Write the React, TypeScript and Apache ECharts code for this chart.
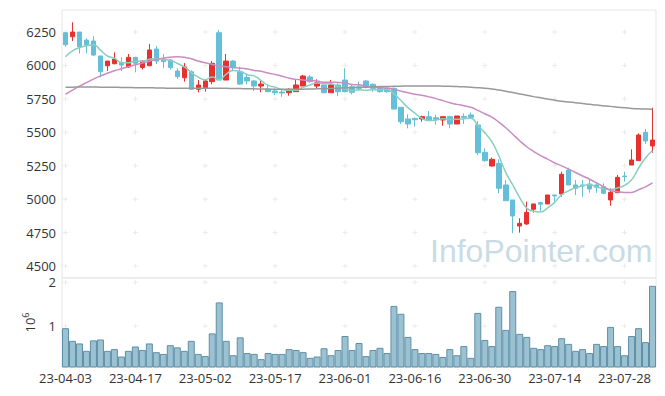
import React, { useEffect, useRef } from "react";
import * as echarts from "echarts";

const dates = [
  "23-04-03","23-04-04","23-04-05","23-04-06","23-04-07","23-04-10","23-04-11","23-04-12","23-04-13","23-04-14",
  "23-04-17","23-04-18","23-04-19","23-04-20","23-04-21","23-04-24","23-04-25","23-04-26","23-04-27","23-04-28",
  "23-05-02","23-05-03","23-05-04","23-05-08","23-05-09","23-05-10","23-05-11","23-05-12","23-05-15","23-05-16",
  "23-05-17","23-05-18","23-05-19","23-05-22","23-05-23","23-05-24","23-05-25","23-05-26","23-05-30","23-05-31",
  "23-06-01","23-06-02","23-06-05","23-06-07","23-06-08","23-06-09","23-06-12","23-06-13","23-06-14","23-06-15",
  "23-06-16","23-06-19","23-06-20","23-06-21","23-06-22","23-06-23","23-06-26","23-06-27","23-06-28","23-06-29",
  "23-06-30","23-07-03","23-07-04","23-07-05","23-07-06","23-07-07","23-07-10","23-07-11","23-07-12","23-07-13",
  "23-07-14","23-07-17","23-07-18","23-07-19","23-07-20","23-07-21","23-07-24","23-07-25","23-07-26","23-07-27",
  "23-07-28","23-07-31","23-08-01","23-08-02","23-08-03",
];

const opens = [
  6245,6215,6250,6190,6183,6071,5998,6013,6021,5989,
  6061,5985,5998,6123,6048,6041,5959,5908,5953,5822,
  5834,5879,6245,5891,6033,5953,5911,5884,5846,5824,
  5809,5801,5796,5804,5846,5914,5846,5854,5796,5854,
  5891,5841,5841,5884,5859,5829,5829,5829,5687,5600,
  5604,5600,5617,5609,5592,5617,5562,5619,5630,5555,
  5350,5248,5268,5106,4994,4799,4814,4924,4974,4964,
  5031,5038,5218,5106,5106,5113,5106,5093,4994,5048,
  5173,5255,5288,5500,5398,
];
const closes = [
  6155,6250,6140,6153,6078,5953,6033,6048,6003,6061,
  6016,6033,6116,6033,6028,5984,5916,5989,5822,5854,
  5884,6016,5891,6033,5984,5861,5884,5846,5861,5804,
  5796,5794,5822,5854,5921,5879,5871,5796,5854,5804,
  5804,5799,5829,5836,5829,5804,5804,5674,5579,5562,
  5594,5617,5587,5597,5617,5562,5622,5612,5612,5347,
  5288,5298,5081,4988,4874,4819,4901,4964,4962,5031,
  5024,5186,5106,5081,5099,5076,5088,5044,5051,5163,
  5168,5293,5480,5435,5442,
];
const lows = [
  6140,6183,6090,6091,6071,5911,5959,6009,5959,5981,
  5949,5970,5995,6011,5979,5970,5899,5879,5820,5799,
  5804,5859,5891,5891,5966,5854,5859,5809,5799,5799,
  5779,5766,5774,5804,5846,5871,5829,5791,5796,5771,
  5800,5784,5809,5829,5804,5796,5796,5674,5562,5530,
  5542,5579,5587,5557,5549,5530,5562,5562,5600,5330,
  5280,5243,5044,4988,4745,4749,4807,4899,4912,4964,
  4981,5018,5106,5031,5018,5048,5048,5038,4951,5048,
  5131,5255,5288,5413,5347,
];
const highs = [
  6250,6323,6250,6203,6220,6071,6033,6098,6061,6086,
  6065,6040,6160,6146,6086,6048,5979,6018,5964,5891,
  5891,6033,6265,6086,6041,5991,5941,5891,5891,5861,
  5829,5816,5829,5891,5929,5929,5896,5854,5891,5866,
  5979,5854,5879,5891,5866,5841,5841,5836,5687,5635,
  5610,5624,5659,5632,5617,5624,5622,5642,5647,5585,
  5380,5310,5298,5143,4994,4857,4981,4964,4981,5031,
  5031,5205,5235,5143,5143,5148,5128,5118,5081,5181,
  5205,5373,5492,5525,5684,
];

const ma5 = [
  6066,6110,6133,6148,6155,6115,6071,6053,6023,6020,
  6032,6032,6046,6052,6045,6039,6015,5990,5948,5913,
  5893,5913,5893,5936,5962,5957,5931,5922,5887,5851,
  5838,5820,5815,5814,5837,5854,5869,5864,5864,5841,
  5826,5811,5818,5814,5819,5819,5820,5789,5738,5685,
  5643,5605,5588,5591,5602,5596,5597,5602,5605,5551,
  5496,5431,5325,5200,5106,5012,4933,4909,4904,4935,
  4976,5033,5062,5086,5099,5110,5090,5078,5072,5084,
  5103,5144,5231,5308,5364,
];
const ma20 = [
  5784,5815,5845,5872,5898,5922,5942,5960,5975,5990,
  6005,6018,6032,6045,6055,6062,6065,6062,6050,6033,
  6020,6008,5996,5990,5985,5980,5973,5963,5956,5943,
  5932,5920,5905,5896,5891,5886,5883,5874,5875,5873,
  5869,5858,5855,5845,5837,5834,5830,5822,5808,5796,
  5785,5777,5765,5752,5737,5721,5709,5699,5687,5664,
  5639,5614,5576,5534,5486,5437,5392,5356,5325,5299,
  5270,5249,5225,5199,5173,5149,5122,5093,5065,5056,
  5050,5050,5070,5092,5121,
];
const ma60 = [
  5837,5838,5839,5839,5839,5838,5838,5837,5836,5835,
  5834,5834,5833,5832,5831,5830,5830,5829,5829,5829,
  5829,5830,5830,5829,5828,5827,5826,5825,5824,5823,
  5822,5822,5822,5822,5823,5824,5825,5826,5828,5830,
  5832,5834,5836,5838,5840,5842,5843,5844,5845,5846,
  5846,5846,5846,5846,5845,5844,5842,5840,5837,5834,
  5830,5824,5816,5807,5797,5787,5777,5767,5758,5749,
  5740,5733,5727,5721,5715,5710,5704,5699,5694,5688,
  5683,5679,5676,5674,5673,
];

const volumes = [
  950000,660000,600000,430000,670000,690000,430000,470000,300000,430000,
  530000,450000,600000,400000,360000,560000,510000,430000,660000,360000,
  310000,830000,1540000,660000,330000,740000,380000,360000,240000,380000,
  360000,360000,470000,450000,400000,270000,300000,490000,330000,450000,
  770000,450000,610000,310000,450000,500000,380000,1460000,1280000,750000,
  470000,380000,380000,360000,290000,470000,330000,540000,270000,1300000,
  680000,540000,1440000,910000,1800000,820000,750000,500000,470000,560000,
  540000,720000,590000,430000,470000,380000,590000,540000,980000,540000,
  330000,770000,950000,630000,1920000,
];

const priceTicks = [4500, 4750, 5000, 5250, 5500, 5750, 6000, 6250];
const volumeTicks = [1000000, 2000000];
const labelEvery = 10;

const UP = "#e8312f";
const DOWN = "#66bfd8";
const FONT = "'Open Sans', 'Noto Sans', sans-serif";
const PLUS = "path://M2,0h1v2h2v1h-2v2h-1v-2h-2v-1h2z";

export default function App() {
  const ref = useRef<HTMLDivElement>(null);
  useEffect(() => {
    if (!ref.current) return;
    const chart = echarts.init(ref.current, undefined, { renderer: "svg" });

    const candles = dates.map((_, i) => [opens[i], closes[i], lows[i], highs[i]]);
    const labelIdx = dates.map((_, i) => i).filter((i) => i % labelEvery === 0);
    const plusPrice: number[][] = [];
    labelIdx.forEach((i) => priceTicks.forEach((v) => plusPrice.push([i, v])));
    const plusVol: number[][] = [];
    labelIdx.forEach((i) => volumeTicks.forEach((v) => plusVol.push([i, v])));

    const labelStyle = { color: "#333", fontSize: 13, fontFamily: FONT };

    chart.setOption({
      animation: false,
      grid: [
        { left: 62, right: 9, top: 10, height: 268, show: true, borderColor: "#e6e6e6", borderWidth: 1 },
        { left: 62, right: 9, top: 278, height: 89, show: true, borderColor: "#e6e6e6", borderWidth: 1 },
      ],
      xAxis: [
        {
          type: "category", data: dates, gridIndex: 0, boundaryGap: true,
          axisLine: { show: false }, axisTick: { show: false }, axisLabel: { show: false },
          splitLine: { show: false },
        },
        {
          type: "category", data: dates, gridIndex: 1, boundaryGap: true,
          axisLine: { show: false }, axisTick: { show: false },
          axisLabel: { ...labelStyle, interval: labelEvery - 1, margin: 4 },
          splitLine: { show: false },
        },
      ],
      yAxis: [
        {
          type: "value", gridIndex: 0, min: 4410, max: 6415, scale: true,
          axisLine: { show: false }, axisTick: { show: false }, splitLine: { show: false },
          axisLabel: {
            ...labelStyle, margin: 6, customValues: priceTicks,
            formatter: (v: number) => String(v),
          },
        },
        {
          type: "value", gridIndex: 1, min: 60000, max: 2100000,
          axisLine: { show: false }, axisTick: { show: false }, splitLine: { show: false },
          axisLabel: {
            ...labelStyle, margin: 6, customValues: volumeTicks,
            formatter: (v: number) => String(Math.round(v / 1000000)),
          },
          name: "10{s|6}",
          nameLocation: "middle",
          nameRotate: 90,
          nameGap: 24,
          nameTextStyle: {
            ...labelStyle,
            rich: { s: { fontSize: 9, fontFamily: FONT, color: "#333", verticalAlign: "top", padding: [0, 0, 8, 0] } },
          },
        },
      ],
      graphic: [
        {
          type: "text", left: 430, top: 235, z: 0, silent: true,
          style: { text: "InfoPointer.com", font: "32px 'Liberation Sans', sans-serif", fill: "#c9dce6" },
        },
      ],
      series: [
        {
          type: "scatter", xAxisIndex: 0, yAxisIndex: 0, data: plusPrice, symbol: PLUS, symbolSize: 5,
          itemStyle: { color: "#e6e6e6" }, silent: true, z: 1,
        },
        {
          type: "scatter", xAxisIndex: 1, yAxisIndex: 1, data: plusVol, symbol: PLUS, symbolSize: 5,
          itemStyle: { color: "#e6e6e6" }, silent: true, z: 1,
        },
        {
          type: "candlestick", xAxisIndex: 0, yAxisIndex: 0, data: candles, barWidth: 5, z: 3,
          itemStyle: { color: UP, color0: DOWN, borderColor: UP, borderColor0: DOWN, borderWidth: 1 },
        },
        {
          type: "line", xAxisIndex: 0, yAxisIndex: 0, data: ma5, smooth: true, symbol: "none", z: 4,
          lineStyle: { color: "#88cfc1", width: 1.5 },
        },
        {
          type: "line", xAxisIndex: 0, yAxisIndex: 0, data: ma20, smooth: true, symbol: "none", z: 4,
          lineStyle: { color: "#c98cc5", width: 1.5 },
        },
        {
          type: "line", xAxisIndex: 0, yAxisIndex: 0, data: ma60, smooth: true, symbol: "none", z: 4,
          lineStyle: { color: "#999999", width: 1.5 },
        },
        {
          type: "bar", xAxisIndex: 1, yAxisIndex: 1, data: volumes, barWidth: "100%", z: 3,
          itemStyle: { color: "#9cc2d2", borderColor: "#5e8fa8", borderWidth: 1 },
        },
      ],
    });
    return () => chart.dispose();
  }, []);
  return <div ref={ref} style={{ width: 665, height: 396, position: "absolute", left: 0, top: 0 }} />;
}
